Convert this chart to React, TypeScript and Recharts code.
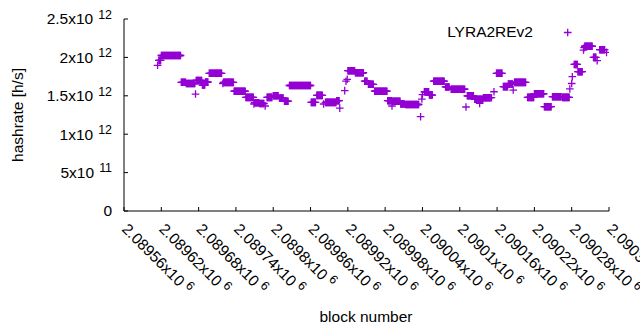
import React from 'react';
import { ScatterChart, Scatter, XAxis, YAxis, Legend } from 'recharts';

const PURPLE = '#9400d3';
const FONT = '"Liberation Sans", Arial, Helvetica, sans-serif';

// hashrate epochs: first block, last block, hashrate [h/s]
const runStart = [
  2089614, 2089616, 2089620, 2089652, 2089660, 2089675, 2089676, 2089686, 2089691, 2089697,
  2089719, 2089720, 2089737, 2089756, 2089769, 2089770, 2089778, 2089787, 2089790, 2089800,
  2089810, 2089818, 2089826, 2089861, 2089870, 2089881, 2089884, 2089902, 2089907, 2089915,
  2089917, 2089919, 2089920, 2089932, 2089947, 2089953, 2089963, 2089984, 2089991, 2089992,
  2090005, 2090013, 2090037, 2090039, 2090040, 2090043, 2090051, 2090058, 2090077, 2090086,
  2090110, 2090112, 2090124, 2090132, 2090138, 2090151, 2090155, 2090159, 2090170, 2090178,
  2090186, 2090188, 2090209, 2090220, 2090236, 2090249, 2090265, 2090277, 2090280, 2090281,
  2090284, 2090290, 2090299, 2090300, 2090301, 2090315, 2090321, 2090325, 2090336,
];
const runEnd = [
  2089614, 2089619, 2089651, 2089659, 2089674, 2089675, 2089685, 2089690, 2089695, 2089717,
  2089719, 2089736, 2089755, 2089768, 2089769, 2089777, 2089785, 2089787, 2089798, 2089808,
  2089816, 2089824, 2089860, 2089868, 2089879, 2089881, 2089901, 2089906, 2089907, 2089915,
  2089917, 2089919, 2089931, 2089945, 2089951, 2089961, 2089983, 2089990, 2089991, 2090004,
  2090011, 2090034, 2090037, 2090039, 2090040, 2090050, 2090056, 2090075, 2090083, 2090108,
  2090110, 2090122, 2090137, 2090132, 2090149, 2090151, 2090155, 2090168, 2090177, 2090185,
  2090186, 2090206, 2090219, 2090235, 2090247, 2090263, 2090276, 2090277, 2090280, 2090281,
  2090289, 2090297, 2090299, 2090300, 2090313, 2090319, 2090321, 2090333, 2090336,
];
const runHashrate = [
  1.897e12, 1.96e12, 2.025e12, 1.676e12, 1.66e12, 1.523e12, 1.70e12, 1.64e12, 1.68e12, 1.793e12,
  1.66e12, 1.675e12, 1.56e12, 1.48e12, 1.393e12, 1.41e12, 1.40e12, 1.367e12, 1.48e12, 1.50e12,
  1.47e12, 1.43e12, 1.634e12, 1.415e12, 1.506e12, 1.393e12, 1.415e12, 1.436e12, 1.34e12, 1.567e12,
  1.69e12, 1.715e12, 1.827e12, 1.80e12, 1.69e12, 1.65e12, 1.56e12, 1.436e12, 1.367e12, 1.43e12,
  1.393e12, 1.387e12, 1.228e12, 1.458e12, 1.514e12, 1.552e12, 1.51e12, 1.69e12, 1.615e12, 1.585e12,
  1.354e12, 1.50e12, 1.455e12, 1.402e12, 1.475e12, 1.475e12, 1.553e12, 1.793e12, 1.62e12, 1.654e12,
  1.575e12, 1.675e12, 1.48e12, 1.527e12, 1.358e12, 1.488e12, 1.48e12, 1.589e12, 1.66e12, 1.749e12,
  1.908e12, 1.814e12, 2.096e12, 2.127e12, 2.145e12, 2.0e12, 1.957e12, 2.10e12, 2.066e12,
];

const xTicks = [
  2089560, 2089620, 2089680, 2089740, 2089800, 2089860, 2089920,
  2089980, 2090040, 2090100, 2090160, 2090220, 2090280, 2090340,
];
const xTickText = [
  '2.08956x10', '2.08962x10', '2.08968x10', '2.08974x10', '2.0898x10', '2.08986x10', '2.08992x10',
  '2.08998x10', '2.09004x10', '2.0901x10', '2.09016x10', '2.09022x10', '2.09028x10', '2.09034x10',
];
const yTicks = [0, 5e11, 1e12, 1.5e12, 2e12, 2.5e12];
const yTickText = ['0', '5x10', '1x10', '1.5x10', '2x10', '2.5x10'];
const yTickExp = ['', '11', '12', '12', '12', '12'];

// one point per block
const points: { block: number; hashrate: number }[] = [];
runStart.forEach((start, i) => {
  for (let b = start; b <= runEnd[i]; b++) points.push({ block: b, hashrate: runHashrate[i] });
});

const PlusMark = (props: any) => {
  const { cx, cy } = props;
  if (cx == null || cy == null) return null;
  return (
    <path
      d={`M${cx - 3.8},${cy}H${cx + 3.8}M${cx},${cy - 3.8}V${cy + 3.8}`}
      stroke={PURPLE}
      strokeWidth={1.3}
      fill="none"
    />
  );
};

const XTickBottom = (props: any) => {
  const { x, y, payload } = props;
  const i = xTicks.indexOf(payload.value);
  return (
    <g>
      <line x1={x} y1={y} x2={x} y2={y - 4} stroke="#000" />
      <text transform={`translate(${x - 3},${y + 19}) rotate(45)`} fontSize={15.5} fontFamily={FONT} fill="#000">
        <tspan>{xTickText[i]}</tspan>
        <tspan dx={4} dy={-5.6} fontSize={12.4}>6</tspan>
      </text>
    </g>
  );
};

const XTickTop = (props: any) => {
  const { x, y } = props;
  return <line x1={x} y1={y} x2={x} y2={y + 4} stroke="#000" />;
};

const YTickLeft = (props: any) => {
  const { x, y, payload } = props;
  const i = yTicks.indexOf(payload.value);
  return (
    <g>
      <line x1={x} y1={y} x2={x + 4} y2={y} stroke="#000" />
      <text x={x - 12} y={y + 5.3} textAnchor="end" fontSize={15.5} fontFamily={FONT} fill="#000">
        <tspan>{yTickText[i]}</tspan>
        {yTickExp[i] && <tspan dx={5} dy={-5.6} fontSize={12.4}>{yTickExp[i]}</tspan>}
      </text>
    </g>
  );
};

const YTickRight = (props: any) => {
  const { x, y } = props;
  return <line x1={x} y1={y} x2={x - 4} y2={y} stroke="#000" />;
};

const KeyBox = () => (
  <svg width={640} height={330} style={{ display: 'block' }}>
    <text x={533} y={37.3} textAnchor="end" fontSize={15.5} fontFamily={FONT} fill="#000">LYRA2REv2</text>
    <path d="M563.9,32.5H571.5M567.7,28.7V36.3" stroke={PURPLE} strokeWidth={1.3} fill="none" />
    <text transform="translate(22.5,115) rotate(-90)" textAnchor="middle" fontSize={15.5} fontFamily={FONT} fill="#000">
      hashrate [h/s]
    </text>
    <text x={366} y={322} textAnchor="middle" fontSize={15.5} fontFamily={FONT} fill="#000">block number</text>
  </svg>
);

export default function App() {
  const axisLine = { stroke: '#000', strokeWidth: 1 };
  return (
    <div style={{ position: 'absolute', left: 0, top: 0, width: 640, height: 330, background: '#fff' }}>
      <ScatterChart width={640} height={330} margin={{ top: 19, right: 31, bottom: 19, left: 0 }}>
        <XAxis
          dataKey="block"
          type="number"
          domain={[2089560, 2090340]}
          ticks={xTicks}
          interval={0}
          height={100}
          tickSize={0}
          tickMargin={0}
          tickLine={false}
          axisLine={axisLine}
          tick={<XTickBottom />}
          allowDataOverflow
        />
        <XAxis
          xAxisId="top"
          orientation="top"
          type="number"
          domain={[2089560, 2090340]}
          ticks={xTicks}
          interval={0}
          height={0}
          tickSize={0}
          tickMargin={0}
          tickLine={false}
          axisLine={axisLine}
          tick={<XTickTop />}
          allowDataOverflow
        />
        <YAxis
          dataKey="hashrate"
          type="number"
          domain={[0, 2.5e12]}
          ticks={yTicks}
          interval={0}
          width={124}
          tickSize={0}
          tickMargin={0}
          tickLine={false}
          axisLine={axisLine}
          tick={<YTickLeft />}
          allowDataOverflow
        />
        <YAxis
          yAxisId="right"
          orientation="right"
          type="number"
          domain={[0, 2.5e12]}
          ticks={yTicks}
          interval={0}
          width={0}
          tickSize={0}
          tickMargin={0}
          tickLine={false}
          axisLine={axisLine}
          tick={<YTickRight />}
          allowDataOverflow
        />
        <Legend
          layout="horizontal"
          verticalAlign="middle"
          wrapperStyle={{ top: 0, left: 0, width: 640, height: 330, pointerEvents: 'none' }}
          content={() => <KeyBox />}
        />
        <Scatter name="LYRA2REv2" data={points} fill={PURPLE} shape={<PlusMark />} isAnimationActive={false} />
      </ScatterChart>
    </div>
  );
}
